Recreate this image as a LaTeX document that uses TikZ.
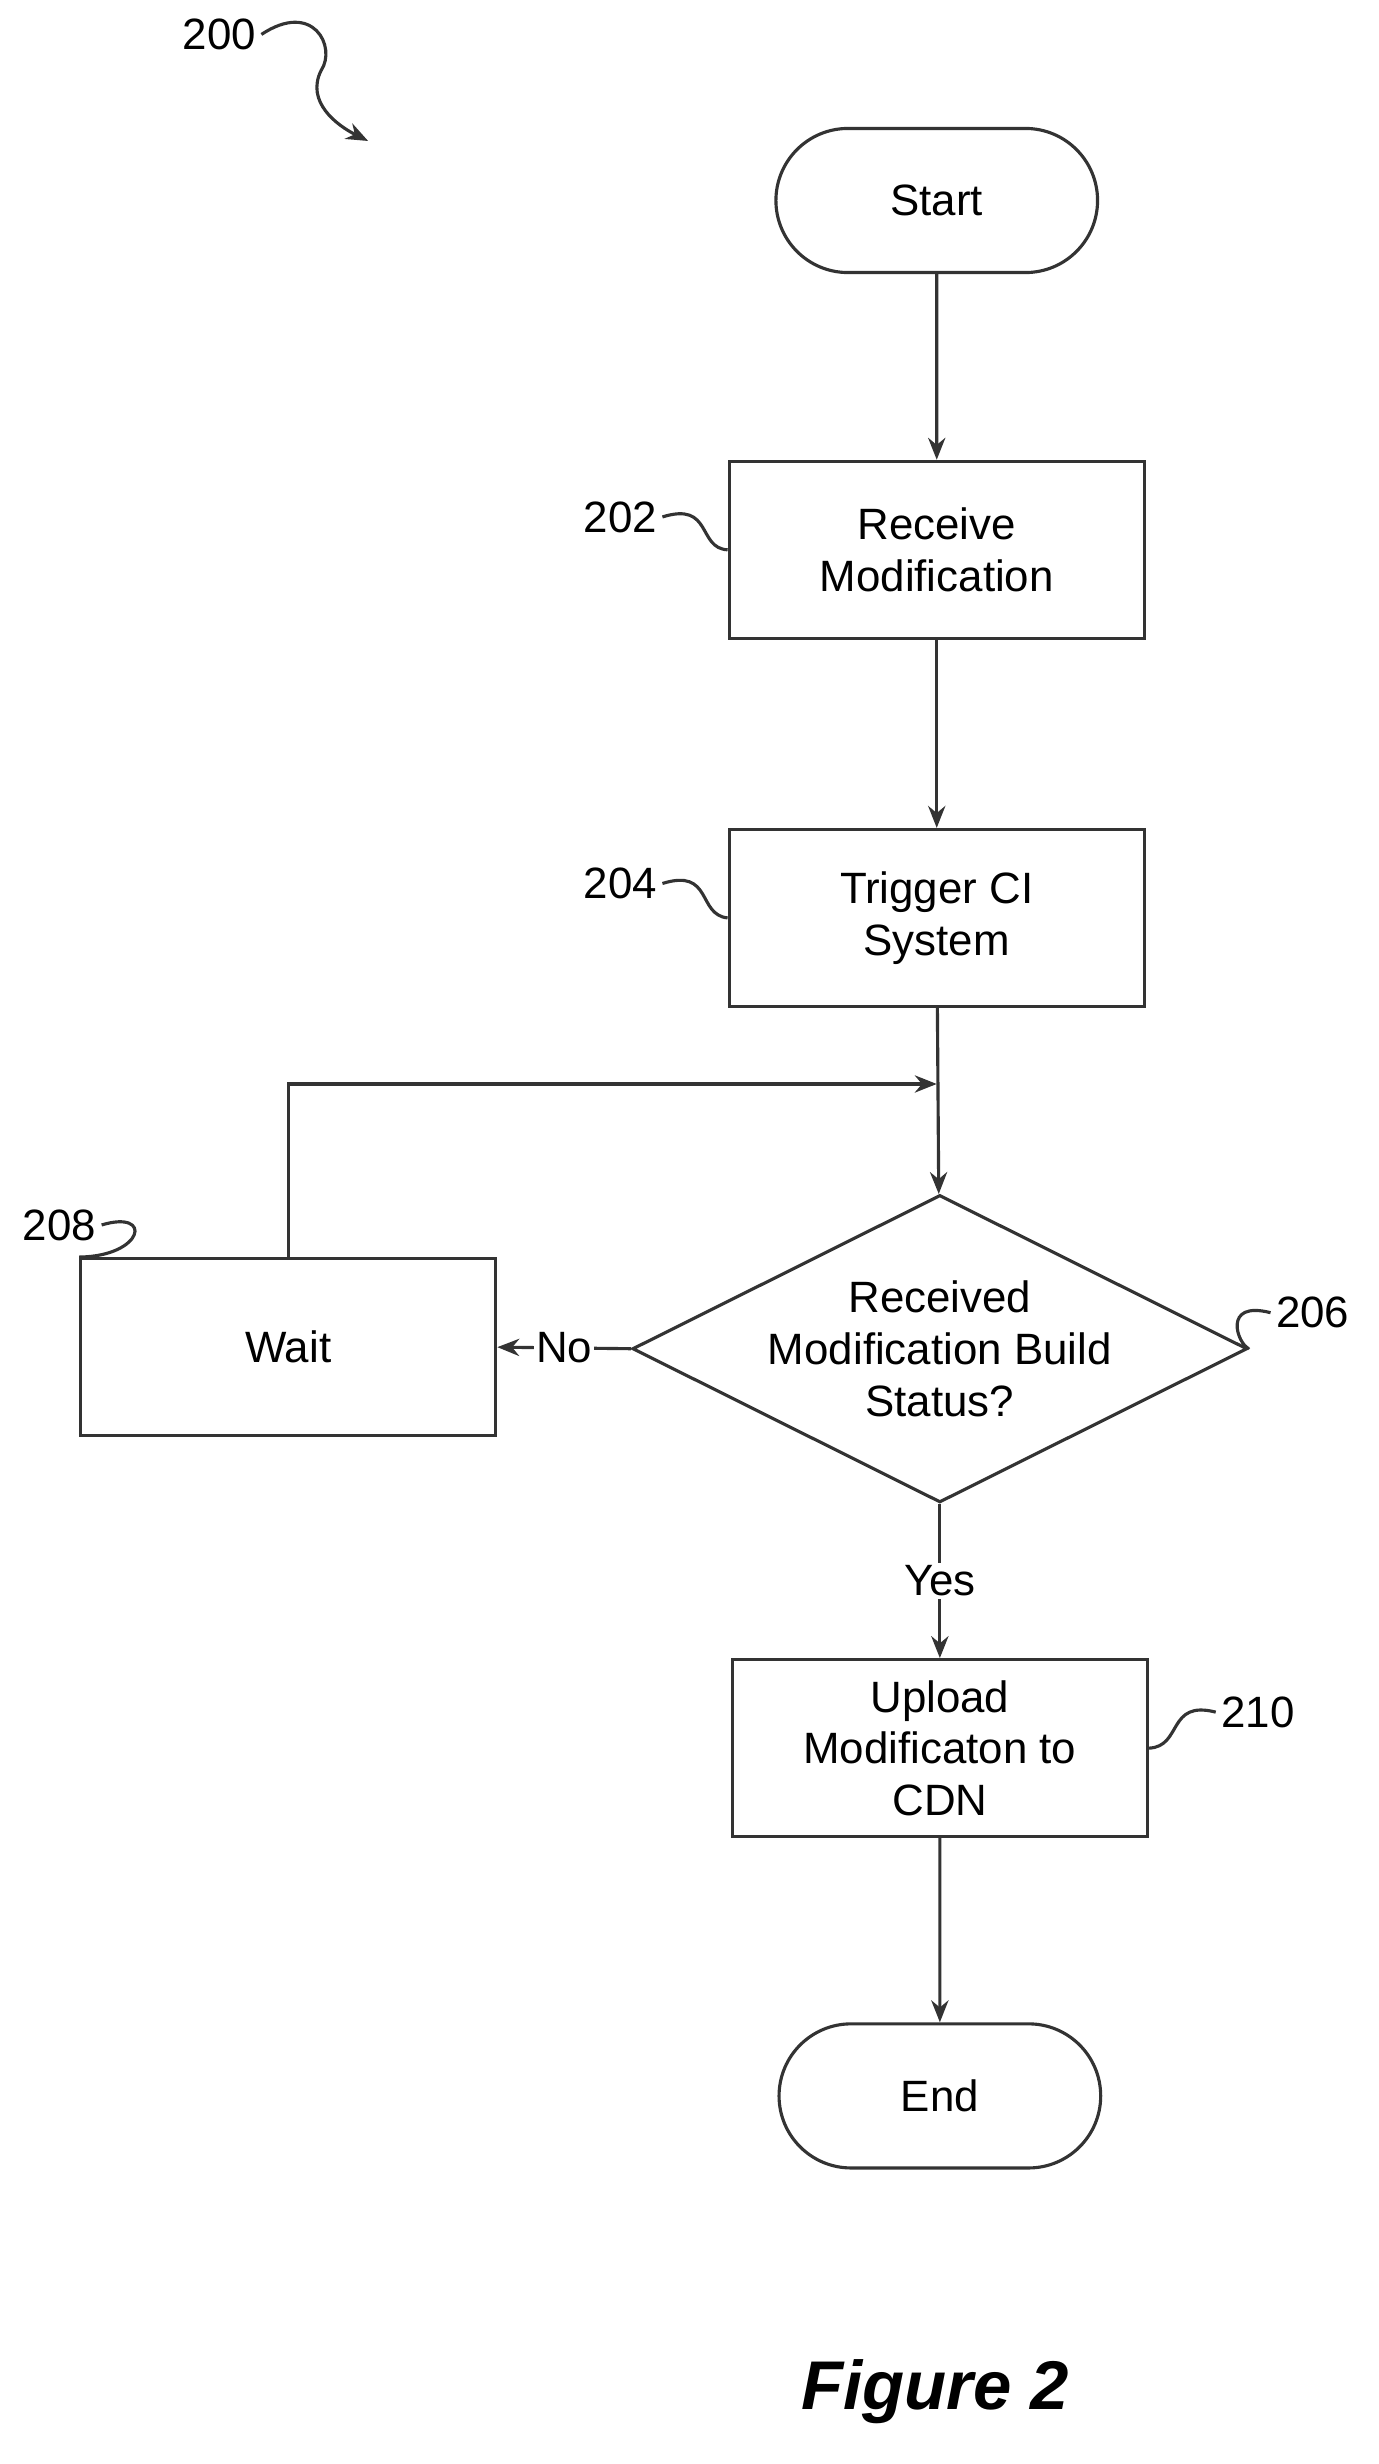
\documentclass[tikz,border=0pt]{standalone}
\usepackage{fontspec}
\setmainfont{Liberation Sans}
\usetikzlibrary{shapes.geometric,shapes.misc,arrows.meta}
\tikzset{
  flow/.style={draw=black!80, line width=2pt, align=center, font=\fontsize{28}{33}\selectfont},
  term/.style={flow, rounded rectangle, minimum width=212pt, minimum height=92pt},
  proc/.style={flow, rectangle, minimum width=265pt, minimum height=113pt},
  link/.style={draw=black!80, line width=2pt, -{Stealth[length=14pt,width=11pt]}},
  tag/.style={font=\fontsize{28}{33}\selectfont},
  squig/.style={draw=black!80, line width=2pt}
}
\begin{document}
\begin{tikzpicture}[x=1pt,y=-1pt]
\useasboundingbox (0,0) rectangle (880,1573);

% flow nodes
\node[term] (start) at (598,128) {Start};
\node[proc] (recv) at (598,351) {Receive\\Modification};
\node[proc] (trig) at (598,586) {Trigger CI\\System};
\node[flow, diamond, aspect=2, minimum width=335pt, minimum height=170pt, inner sep=0pt] (stat) at (600,861) {Received\\Modification Build\\Status?};
\node[proc] (wait) at (184,860) {Wait};
\node[proc] (upld) at (600,1116) {Upload\\Modificaton to\\CDN};
\node[term] (end) at (600,1338) {End};
\coordinate (merge) at (598,692);

% connectors
\draw[link] (start) -- (recv);
\draw[link] (recv) -- (trig);
\draw[link] (trig) -- (stat);
\draw[link] (wait.north) |- (merge);
\draw[link] (stat.west) -- node[fill=white, tag, inner sep=1pt] (no) {No} (wait.east);
\draw[link] (stat.south) -- node[fill=white, tag, inner sep=2pt] (yes) {Yes} (upld.north);
\draw[link] (upld) -- (end);

% reference labels
\node[tag] (l200) at (140,22) {200};
\node[tag] (l202) at (396,330) {202};
\node[tag] (l204) at (396,564) {204};
\node[tag] (l206) at (838,838) {206};
\node[tag] (l208) at (38,782) {208};
\node[tag] (l210) at (803,1093) {210};
\draw[squig] (l202.east) .. controls (455,320) and (445,350) .. (recv.west);
\draw[squig] (l204.east) .. controls (455,554) and (445,584) .. (trig.west);
\draw[squig] (l208.east) .. controls (98,772) and (92,802) .. (wait.north west);
\draw[squig] (l206.west) .. controls (780,830) and (790,858) .. (stat.east);
\draw[squig] (l210.west) .. controls (745,1085) and (755,1115) .. (upld.east);
\draw[squig, -{Stealth[length=14pt,width=11pt]}] (l200.east) .. controls (200,0) and (215,30) .. (205,45) .. controls (195,65) and (215,80) .. (235,90);

\node[font=\fontsize{44}{50}\selectfont\bfseries\itshape] (fig) at (597,1527) {Figure 2};
\end{tikzpicture}
\end{document}
